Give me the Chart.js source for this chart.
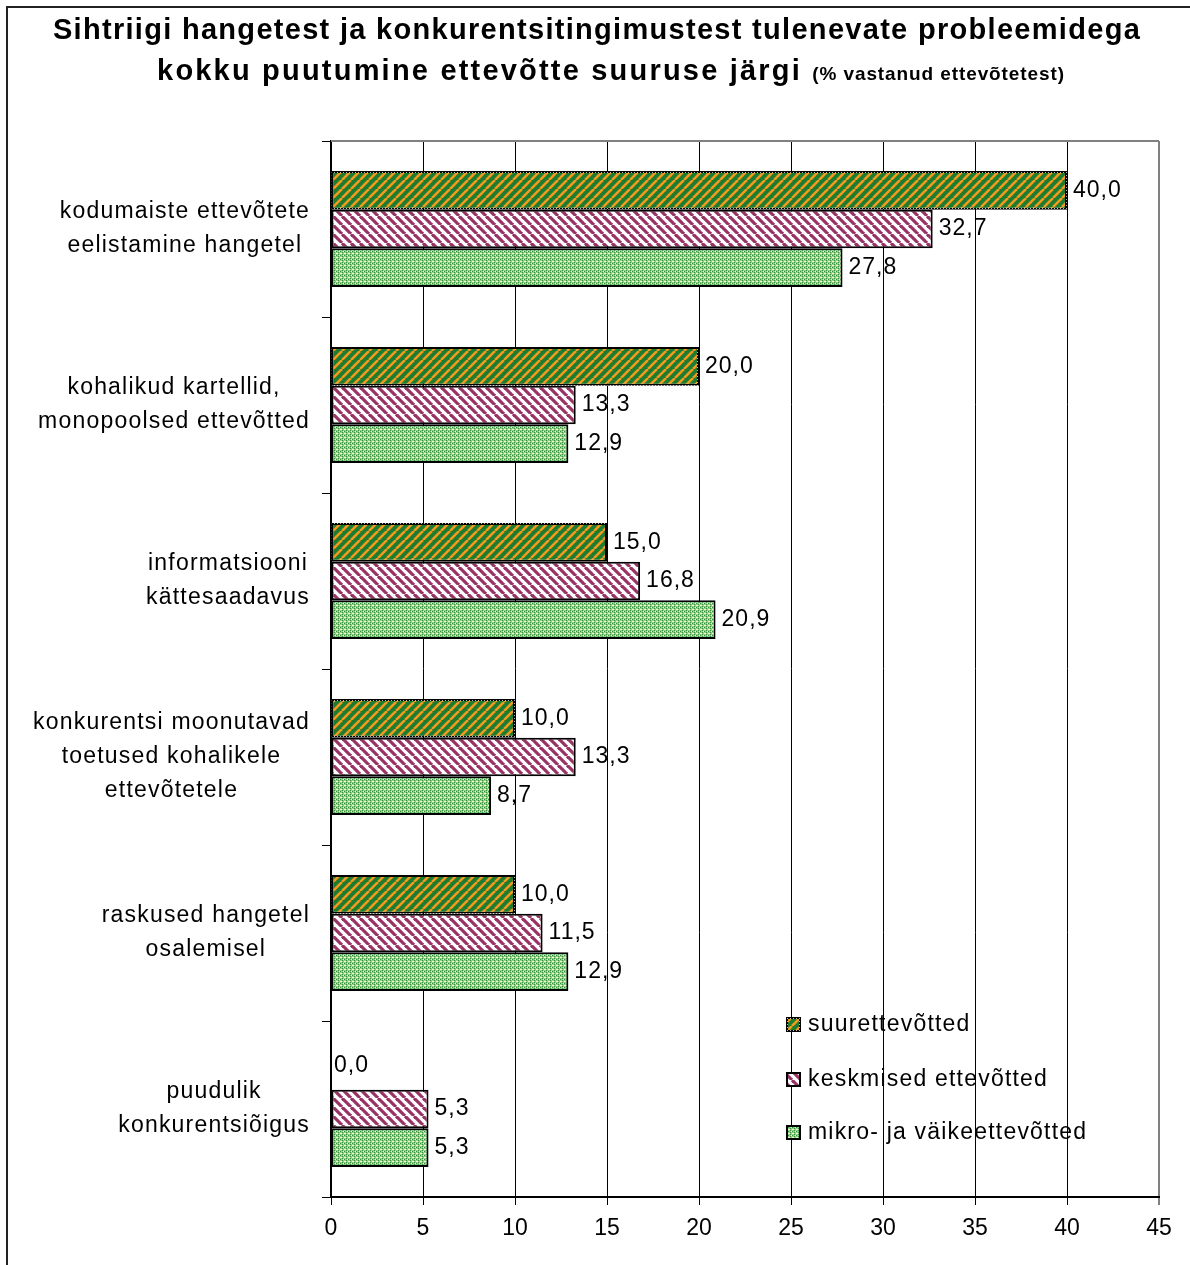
<!DOCTYPE html>
<html>
<head>
<meta charset="utf-8">
<script src="https://cdn.jsdelivr.net/npm/chart.js@4.4.0/dist/chart.umd.min.js"></script>
<style>
  html, body { margin: 0; padding: 0; background: #fff; overflow: hidden; }
  #wrap { position: relative; width: 1190px; height: 1265px; }
  #frame { position: absolute; left: 6px; top: 6px; width: 1300px; height: 1400px; border: 2px solid #222; pointer-events: none; }
  .title { position: absolute; left: 0; text-align: center; font-family: "Liberation Sans", Arial, sans-serif; font-weight: bold; color: #000; white-space: nowrap; }
  .title small { font-size: 19px; letter-spacing: 0.9px; }
</style>
</head>
<body>
<div id="wrap">
  <canvas id="myChart" width="1190" height="1265"></canvas>
  <div class="title" id="t1" style="top:13px; width:1194px; font-size:29px; letter-spacing:1.3px;">Sihtriigi hangetest ja konkurentsitingimustest tulenevate probleemidega</div>
  <div class="title" id="t2" style="top:54px; width:1222px; font-size:29px; letter-spacing:2.2px;">kokku puutumine ettevõtte suuruse järgi <small>(% vastanud ettevõtetest)</small></div>
  <div id="frame"></div>
</div>
<script>
var categories = [
    ["kodumaiste ettevõtete", "eelistamine hangetel"],
    ["kohalikud kartellid,", "monopoolsed ettevõtted"],
    ["informatsiooni", "kättesaadavus"],
    ["konkurentsi moonutavad", "toetused kohalikele", "ettevõtetele"],
    ["raskused hangetel", "osalemisel"],
    ["puudulik", "konkurentsiõigus"]
];
var seriesNames = ["suurettevõtted", "keskmised ettevõtted", "mikro- ja väikeettevõtted"];
var suurValues = [40.0, 20.0, 15.0, 10.0, 10.0, 0.0];
var keskmisedValues = [32.7, 13.3, 16.8, 13.3, 11.5, 5.3];
var mikroValues = [27.8, 12.9, 20.9, 8.7, 12.9, 5.3];
var xMin = 0, xMax = 45, xStep = 5;

var FONT = "'Liberation Sans', Arial, sans-serif";

// fill patterns like the old excel hatches
function makePattern(size, draw) {
    var c = document.createElement('canvas');
    c.width = size; c.height = size;
    var g = c.getContext('2d');
    draw(g, size);
    return document.createElement('canvas').getContext('2d').createPattern(c, 'repeat');
}

var greenStripes = makePattern(9, function (g, s) {
    g.fillStyle = '#1d7c30';
    g.fillRect(0, 0, s, s);
    g.strokeStyle = '#f29a1f';
    g.lineWidth = 2.6;
    for (var k = -1; k <= 1; k++) {
        g.beginPath();
        g.moveTo(k * s, s);
        g.lineTo(k * s + s, 0);
        g.stroke();
    }
});

var pinkStripes = makePattern(9, function (g, s) {
    g.fillStyle = '#ffffff';
    g.fillRect(0, 0, s, s);
    g.strokeStyle = '#993366';
    g.lineWidth = 3.2;
    for (var k = -1; k <= 1; k++) {
        g.beginPath();
        g.moveTo(k * s, 0);
        g.lineTo(k * s + s, s);
        g.stroke();
    }
});

var confetti = makePattern(4, function (g, s) {
    g.fillStyle = '#92cf86';
    g.fillRect(0, 0, s, s);
    g.fillStyle = '#f0f8cc';
    g.fillRect(1, 1, 1, 1);
    g.fillRect(3, 3, 1, 1);
    g.fillRect(0, 1, 1, 1);
    g.fillStyle = '#33913f';
    g.fillRect(2, 0, 1, 1);
    g.fillRect(0, 3, 1, 1);
    g.fillRect(2, 2, 1, 1);
});

var dottedBorder = makePattern(3, function (g, s) {
    g.fillStyle = '#000';
    g.fillRect(0, 0, s, s);
    g.fillStyle = '#bbbbbb';
    g.fillRect(1, 1, 1, 1);
});

var fills = [greenStripes, pinkStripes, confetti];
var borders = [dottedBorder, '#000', '#000'];

function fmt(v) {
    return v.toFixed(1).replace('.', ',');
}

// category labels: lines centered in a block that is right aligned to the axis
var categoryLabels = {
    id: 'categoryLabels',
    afterDraw: function (chart) {
        var ctx = chart.ctx;
        var yScale = chart.scales.y;
        var right = chart.chartArea.left - 21;
        ctx.save();
        ctx.font = '23px ' + FONT;
        ctx.letterSpacing = '1.2px';
        ctx.fillStyle = '#000';
        ctx.textAlign = 'center';
        ctx.textBaseline = 'middle';
        categories.forEach(function (lines, i) {
            var maxW = 0;
            lines.forEach(function (l) { maxW = Math.max(maxW, ctx.measureText(l).width); });
            var cx = right - maxW / 2;
            var cy = yScale.getPixelForValue(i);
            var lh = 34;
            lines.forEach(function (l, j) {
                ctx.fillText(l, cx, cy - (lines.length - 1) * lh / 2 + j * lh);
            });
        });
        ctx.restore();
    }
};

var valueLabels = {
    id: 'valueLabels',
    afterDatasetsDraw: function (chart) {
        var ctx = chart.ctx;
        ctx.save();
        ctx.font = '23px ' + FONT;
        ctx.letterSpacing = '1px';
        ctx.fillStyle = '#000';
        ctx.textAlign = 'left';
        ctx.textBaseline = 'middle';
        chart.data.datasets.forEach(function (ds, i) {
            chart.getDatasetMeta(i).data.forEach(function (bar, j) {
                var v = ds.data[j];
                var y = bar.y;
                if (v === 0) { y -= 5; }
                ctx.fillText(fmt(v), bar.x + (v === 0 ? 3 : 6), y);
            });
        });
        ctx.restore();
    }
};

var plotFrame = {
    id: 'plotFrame',
    beforeDatasetsDraw: function (chart) {
        var a = chart.chartArea;
        var ctx = chart.ctx;
        ctx.save();
        ctx.strokeStyle = '#808080';
        ctx.lineWidth = 2;
        ctx.beginPath();
        ctx.moveTo(a.left, a.top);
        ctx.lineTo(a.right, a.top);
        ctx.stroke();
        ctx.restore();
    }
};

var boxLegend = {
    id: 'boxLegend',
    afterDraw: function (chart) {
        var ctx = chart.ctx;
        var x = chart.chartArea.left + 455;
        var rows = [1024, 1079, 1132];
        ctx.save();
        ctx.font = '23px ' + FONT;
        ctx.letterSpacing = '1.2px';
        ctx.textBaseline = 'middle';
        ctx.textAlign = 'left';
        chart.data.datasets.forEach(function (ds, i) {
            var y = rows[i];
            ctx.fillStyle = borders[i];
            ctx.fillRect(x, y - 7, 15, 15);
            ctx.fillStyle = fills[i];
            ctx.fillRect(x + 2, y - 5, 11, 11);
            ctx.fillStyle = '#000';
            ctx.fillText(ds.label, x + 22, y + 1);
        });
        ctx.restore();
    }
};

Chart.defaults.font.family = FONT;
Chart.defaults.font.size = 22;
Chart.defaults.color = '#000';

var ctx = document.getElementById('myChart').getContext('2d');
var chart = new Chart(ctx, {
    type: 'bar',
    data: {
        labels: categories,
        datasets: [
            { label: seriesNames[0], data: suurValues, backgroundColor: fills[0], borderColor: borders[0] },
            { label: seriesNames[1], data: keskmisedValues, backgroundColor: fills[1], borderColor: borders[1] },
            { label: seriesNames[2], data: mikroValues, backgroundColor: fills[2], borderColor: borders[2] }
        ]
    },
    options: {
        indexAxis: 'y',
        responsive: false,
        animation: false,
        devicePixelRatio: 1,
        layout: { padding: { left: 0, right: 31, top: 141, bottom: 0 } },
        datasets: {
            bar: {
                categoryPercentage: 0.66,
                barPercentage: 1.0,
                borderWidth: 2,
                borderSkipped: false
            }
        },
        scales: {
            x: {
                min: xMin,
                max: xMax,
                ticks: { stepSize: xStep, padding: 10, font: { size: 23 }, color: '#000' },
                grid: {
                    color: function (c) { return c.tick && c.tick.value === xMax ? '#808080' : '#000'; },
                    lineWidth: function (c) { return c.tick && c.tick.value === xMax ? 2 : 1; },
                    tickLength: 8
                },
                border: { color: '#000', width: 2 },
                afterFit: function (s) { s.height = 1265 - 1197; }
            },
            y: {
                ticks: { display: false },
                grid: { drawOnChartArea: false, tickLength: 9, color: '#000', offset: true },
                border: { color: '#000', width: 2 },
                afterFit: function (s) { s.width = 331; }
            }
        },
        plugins: {
            legend: { display: false },
            tooltip: { enabled: false }
        }
    },
    plugins: [plotFrame, valueLabels, categoryLabels, boxLegend]
});
</script>
</body>
</html>
